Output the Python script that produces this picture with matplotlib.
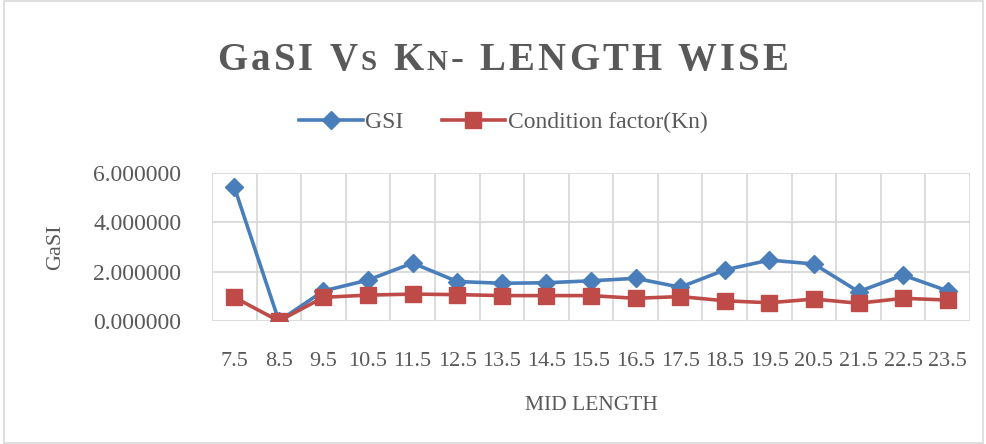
import matplotlib
matplotlib.use("Agg")
import matplotlib.pyplot as plt
from matplotlib.lines import Line2D

# mid length classes
mid_length = ["7.5", "8.5", "9.5", "10.5", "11.5", "12.5", "13.5", "14.5", "15.5",
              "16.5", "17.5", "18.5", "19.5", "20.5", "21.5", "22.5", "23.5"]
gsi = [5.43, 0.0, 1.22, 1.66, 2.35, 1.60, 1.53, 1.55, 1.63,
       1.73, 1.37, 2.07, 2.47, 2.31, 1.19, 1.86, 1.22]
kn = [0.96, 0.0, 0.96, 1.05, 1.09, 1.07, 1.03, 1.03, 1.03,
      0.92, 0.99, 0.82, 0.74, 0.89, 0.72, 0.92, 0.85]
y_ticks = [0, 2, 4, 6]

blue = "#4A7EBB"
red = "#BE4B48"
grey_txt = "#595959"
serif = "Liberation Serif"

fig = plt.figure(figsize=(9.87, 4.44), dpi=100)
ax = fig.add_axes([0.2148, 0.277, 0.768, 0.3334])

x = list(range(len(mid_length)))
ax.plot(x, gsi, color=blue, lw=2.6, marker="D", ms=9, label="GSI")
ax.plot(x, kn, color=red, lw=2.6, marker="s", ms=11, label="Condition factor(Kn)")

ax.set_xlim(-0.5, len(mid_length) - 0.5)
ax.set_ylim(0, 6)
ax.set_yticks(y_ticks)
ax.set_yticklabels([f"{v:.6f}" for v in y_ticks], fontsize=17, color=grey_txt, family=serif)
ax.set_xticks(x)
ax.set_xticklabels(mid_length, fontsize=16, color=grey_txt, family=serif)
ax.tick_params(length=0)
ax.tick_params(axis="x", pad=22)
ax.tick_params(axis="y", pad=22)

# category gridlines sit between the points
for b in range(len(mid_length) + 1):
    ax.axvline(b - 0.5, color="#d9d9d9", lw=1.3, zorder=0)
for v in y_ticks:
    ax.axhline(v, color="#d9d9d9", lw=1.3, zorder=0)
for s in ax.spines.values():
    s.set_visible(False)

ax.set_ylabel("GaSI", fontsize=16, color=grey_txt, family=serif, labelpad=20)
ax.set_xlabel("MID LENGTH", fontsize=15.5, color=grey_txt, family=serif, labelpad=18)

leg = fig.legend(
    handles=[Line2D([], [], color=blue, lw=2.6, marker="D", ms=9),
             Line2D([], [], color=red, lw=2.6, marker="s", ms=11)],
    labels=["GSI", "Condition factor(Kn)"],
    loc="center", bbox_to_anchor=(0.51, 0.725), ncol=2, frameon=False,
    prop={"family": serif, "size": 17}, handlelength=2.7, handletextpad=0.1,
    columnspacing=1.6)
for t in leg.get_texts():
    t.set_color(grey_txt)

# title with small caps and wide letter spacing
pieces = [("G", 1), ("a", 1), ("S", 1), ("I", 1), (" ", 1), ("V", 1), ("S", 0.75),
          (" ", 1), ("K", 1), ("N", 0.75), ("-", 1), (" ", 1)]
pieces += [(c, 1) for c in "LENGTH WISE"]
renderer = fig.canvas.get_renderer()
title_size = 28
gap = 3.2
texts = []
total = 0
for ch, scale in pieces:
    t = fig.text(0, 0, ch, fontsize=title_size * scale, fontweight="bold",
                 family=serif, color=grey_txt, va="baseline", ha="left")
    w = t.get_window_extent(renderer).width if ch != " " else title_size * 0.35
    texts.append((t, w))
    total += w + gap
total -= gap
cx = 503
xpos = cx - total / 2
base_y = 444 - 70
for t, w in texts:
    t.set_position((xpos / 987, base_y / 444))
    xpos += w + gap

# chart frame
fig.patches.append(plt.Rectangle((0.004, 0.003), 0.992, 0.994, transform=fig.transFigure,
                                 fill=False, ec="#d9d9d9", lw=1.2))

fig.savefig("out.png", dpi=100)
